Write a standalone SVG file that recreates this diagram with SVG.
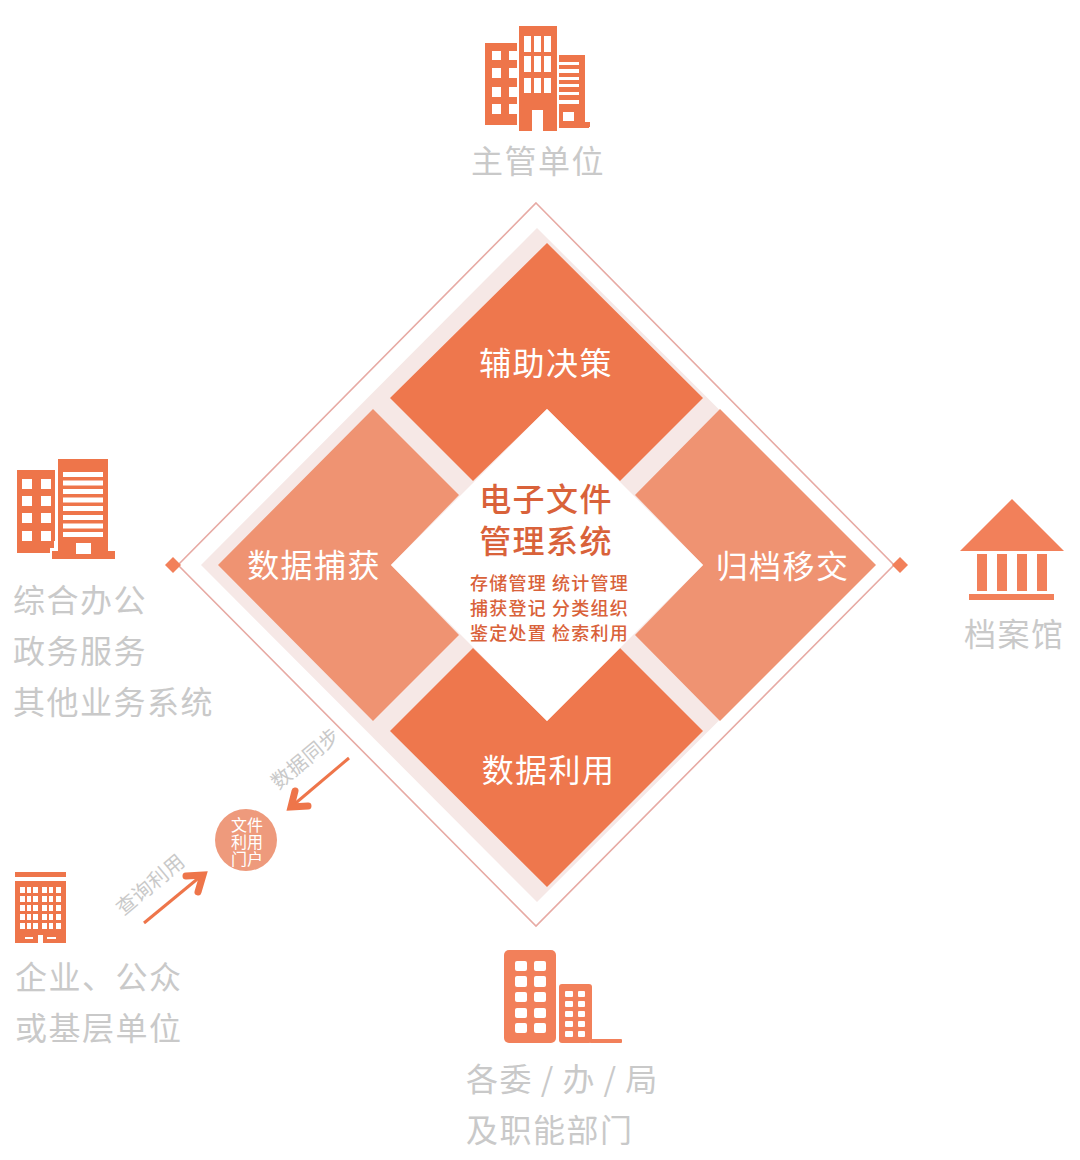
<svg xmlns="http://www.w3.org/2000/svg" width="1080" height="1160" viewBox="0 0 1080 1160">
<style>
text{font-family:"Noto Sans CJK SC","Noto Sans",sans-serif}
.g{fill:#c9c9c9;font-size:32px;letter-spacing:1.5px}
.gs{fill:#c9c9c9;font-size:20px;text-anchor:middle;letter-spacing:.5px}
.w{fill:#fff;font-size:32px;letter-spacing:1.4px;text-anchor:middle}
.t{fill:#d9623a;font-size:32px;letter-spacing:1.4px;text-anchor:middle;font-weight:500}
.s{fill:#d9623a;font-size:18px;letter-spacing:1.2px;text-anchor:middle;font-weight:500}
.p{fill:#fff;font-size:16px;text-anchor:middle}
.o{fill:#ee754a}.o2{fill:#f2805a}.k{fill:#fff}
.d{fill:#ee774d}.l{fill:#ef9372}
.a{fill:none;stroke:#ee754a;stroke-width:3}
.h{fill:none;stroke:#ee754a;stroke-width:7;stroke-linecap:round;stroke-linejoin:miter}
</style>
<rect width="1080" height="1160" fill="#fff"/>

<g id="frame">
<polygon points="536,203 894,565 536,926 178,565" fill="none" stroke="#e7aaa4" stroke-width="1.6"/>
<polygon points="537,228 875,565 537,902 201,565" fill="#f6e8e6"/>
<polygon points="173,557 181,565 173,573 165,565" class="o2"/>
<polygon points="900,557 908,565 900,573 892,565" class="o2"/>
</g>

<g id="node-fuzhu">
<polygon class="d" points="547,243 703,398 620,481 547,409 473,481 390,398"/>
<text class="w" x="546" y="375">辅助决策</text>
</g>
<g id="node-shuju-liyong">
<polygon class="d" points="547,887 703,731 620,648 547,721 473,648 390,731"/>
<text class="w" x="548.500" y="782">数据利用</text>
</g>
<g id="node-buhuo">
<polygon class="l" points="218,565 373,409 459,495 391,565 459,635 373,721"/>
<text class="w" x="314" y="577">数据捕获</text>
</g>
<g id="node-guidang">
<polygon class="l" points="876,565 720,409 635,495 703,565 635,635 720,721"/>
<text class="w" x="782.500" y="578">归档移交</text>
</g>
<g id="node-center">
<polygon class="k" points="547,409 703,565 547,721 391,565"/>
<text class="t" x="546" y="511">电子文件</text>
<text class="t" x="546" y="553">管理系统</text>
<text class="s" x="549.500" y="590">存储管理 统计管理</text>
<text class="s" x="549.500" y="615">捕获登记 分类组织</text>
<text class="s" x="549.500" y="640">鉴定处置 检索利用</text>
</g>

<g id="node-zhuguan">
<path class="o" d="M485 43H517V125H485ZM519 26H557V131H543V110H532V131H519ZM559 55H585V127H589V105V128H559Z"/>
<path class="k" d="M492 51h9v9h-9zM509 51h8v9h-8zM492 68h9v10h-9zM509 68h8v10h-8zM492 87h9v10h-9zM509 87h8v10h-8zM492 104h9v10h-9zM509 104h8v10h-8zM524 36h7v16h-7zM534 36h7v16h-7zM544 36h7v16h-7zM524 56h7v16h-7zM534 56h7v16h-7zM544 56h7v16h-7zM524 78h7v15h-7zM534 78h7v15h-7zM544 78h7v15h-7zM559 62h20v3h-20zM559 69h20v4h-20zM559 77h20v3h-20zM559 84h20v3h-20zM559 92h20v3h-20zM559 100h20v4h-20zM563 112h11v9h-11z"/>
<rect class="o" x="585" y="122" width="5" height="5"/>
<text class="g" x="471" y="173">主管单位</text>
</g>

<g id="node-zonghe">
<path class="o" d="M17 470H55V541H54V548H50V553H17ZM58 459H108V551H115V559H52V551H58Z"/>
<path class="k" d="M22 479h10v10h-10zM41 479h10v10h-10zM22 496h10v10h-10zM41 496h10v10h-10zM22 513h10v10h-10zM41 513h10v10h-10zM22 531h10v10h-10zM41 531h10v10h-10zM63 472h40v5h-40zM63 480.500h40v5h-40zM63 489h40v5h-40zM63 497.500h40v5h-40zM63 506h40v5h-40zM63 515h40v5h-40zM63 523.500h40v5h-40zM63 532h40v5h-40zM76 543h15v11h-15z"/>
<text class="g" x="13" y="612">综合办公</text>
<text class="g" x="13" y="663">政务服务</text>
<text class="g" x="13" y="714">其他业务系统</text>
</g>

<g id="node-danganguan">
<polygon class="o2" points="1012,499 1064,551 960,551"/>
<path class="o2" d="M977 554h10v37h-10zM997 554h10v37h-10zM1017 554h10v37h-10zM1037 554h10v37h-10zM969 594h85v6h-85z"/>
<text class="g" x="964" y="646">档案馆</text>
</g>

<g id="node-qiye">
<path class="o" d="M15 872h51v5h-51zM15 881h51v62h-51z"/>
<path class="k" d="M20 887h5v6h-5zM27 887h4v6h-4zM33 887h5v6h-5zM42 887h5v6h-5zM49 887h4v6h-4zM56 887h5v6h-5zM20 896h5v6h-5zM27 896h4v6h-4zM33 896h5v6h-5zM42 896h5v6h-5zM49 896h4v6h-4zM56 896h5v6h-5zM20 905h5v6h-5zM27 905h4v6h-4zM33 905h5v6h-5zM42 905h5v6h-5zM49 905h4v6h-4zM56 905h5v6h-5zM20 914h5v6h-5zM27 914h4v6h-4zM33 914h5v6h-5zM42 914h5v6h-5zM49 914h4v6h-4zM56 914h5v6h-5zM20 923h5v6h-5zM27 923h4v6h-4zM33 923h5v6h-5zM42 923h5v6h-5zM49 923h4v6h-4zM56 923h5v6h-5zM25 937h8v2h-8zM47 937h9v2h-9zM38 935h5v8h-5z"/>
<text class="g" x="15" y="989">企业、公众</text>
<text class="g" x="15" y="1040">或基层单位</text>
</g>

<g id="node-gewei">
<rect class="o2" x="504" y="950" width="52" height="93" rx="5"/>
<rect class="o2" x="559" y="984" width="33" height="59" rx="3"/>
<rect class="o2" x="590" y="1039" width="32" height="4" rx="1"/>
<g class="k">
<rect x="515" y="961" width="12" height="10" rx="2"/><rect x="534" y="961" width="12" height="10" rx="2"/>
<rect x="515" y="976" width="12" height="11" rx="2"/><rect x="534" y="976" width="12" height="11" rx="2"/>
<rect x="515" y="992" width="12" height="10" rx="2"/><rect x="534" y="992" width="12" height="10" rx="2"/>
<rect x="515" y="1008" width="12" height="10" rx="2"/><rect x="534" y="1008" width="12" height="10" rx="2"/>
<rect x="515" y="1023" width="12" height="10" rx="2"/><rect x="534" y="1023" width="12" height="10" rx="2"/>
<rect x="565" y="991" width="8" height="6" rx="1"/><rect x="578" y="991" width="7" height="6" rx="1"/>
<rect x="565" y="1001" width="8" height="6" rx="1"/><rect x="578" y="1001" width="7" height="6" rx="1"/>
<rect x="565" y="1011" width="8" height="6" rx="1"/><rect x="578" y="1011" width="7" height="6" rx="1"/>
<rect x="565" y="1021" width="8" height="6" rx="1"/><rect x="578" y="1021" width="7" height="6" rx="1"/>
<rect x="565" y="1031" width="8" height="6" rx="1"/><rect x="578" y="1031" width="7" height="6" rx="1"/>
</g>
<text class="g" x="466" y="1091" xml:space="preserve" word-spacing="-1">各委 / 办 / 局</text>
<text class="g" x="466" y="1142">及职能部门</text>
</g>

<g id="node-portal">
<circle cx="246" cy="840" r="31" fill="#ee9a7c"/>
<text class="p"><tspan x="247" y="831">文件</tspan><tspan x="247" y="848">利用</tspan><tspan x="247" y="865">门户</tspan></text>
</g>

<g id="connectors">
<line class="a" x1="349" y1="758" x2="291" y2="807"/>
<path class="h" d="M295 791L291 807L308 806"/>
<line class="a" x1="144" y1="923" x2="201" y2="876"/>
<path class="h" d="M186 876L203 875L198 892"/>
<text class="gs" transform="translate(310 764) rotate(-40)">数据同步</text>
<text class="gs" transform="translate(155 890) rotate(-40)">查询利用</text>
</g>
</svg>
